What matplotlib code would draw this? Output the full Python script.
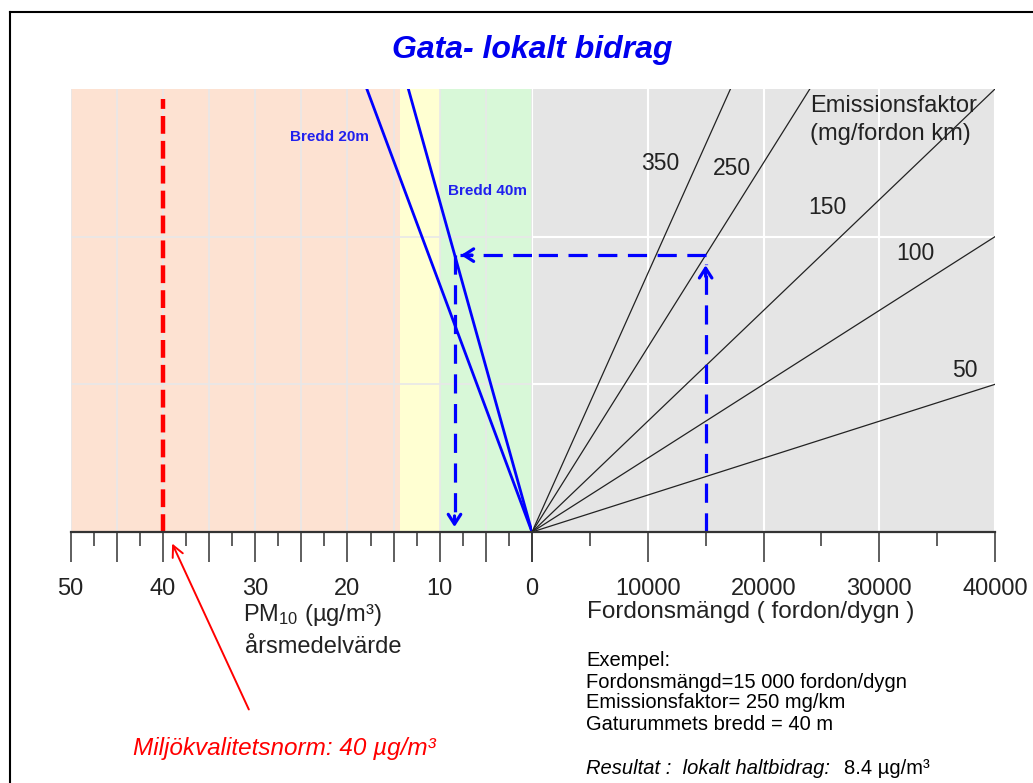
import numpy as np
import matplotlib
matplotlib.use("Agg")
import matplotlib.pyplot as plt
from matplotlib.lines import Line2D

plt.rcParams['font.family'] = ['Liberation Sans', 'DejaVu Sans']
plt.rcParams['mathtext.fontset'] = 'custom'
plt.rcParams['mathtext.rm'] = 'Liberation Sans'
plt.rcParams['mathtext.default'] = 'regular'


# ============================
# Data
# ============================

pm_ticks = [50, 40, 30, 20, 10, 0]
traffic_ticks = [0, 10000, 20000, 30000, 40000]

emission_factors = [50, 100, 150, 250, 350]        # mg/fordon km
ef_labels = ["50", "100", "150", "250", "350"]

bredd_labels = ["Bredd 20m", "Bredd 40m"]
bredd_pm_top = [17.9, 13.4]     # PM10 where the line reaches top of scale

zone_edges = [50, 14.3, 10, 0]   # peach / yellow / green
zone_colors = ["#fde2d2", "#ffffd2", "#d8f8d8"]

q_max = 6e6        # traffic * emission factor at top of scale
norm_pm = 40

ex_traffic = 15000
ex_ef = 250
ex_pm = 8.4


# ============================
# Figure
# ============================

W, H = 1033, 783
fig = plt.figure(figsize=(W / 100, H / 100), dpi=100)

axL = fig.add_axes([70.7 / W, 251 / H, 461.3 / W, 443 / H])
axR = fig.add_axes([532 / W, 251 / H, 463 / W, 443 / H])

for ax in (axL, axR):
    ax.set_ylim(0, q_max)
    for s in ("top", "left", "right"):
        ax.spines[s].set_visible(False)
    ax.spines["bottom"].set_linewidth(1.6)
    ax.spines["bottom"].set_color("#333333")
    ax.set_yticks([2e6, 4e6])
    ax.tick_params(axis="y", length=0, labelleft=False)
    ax.tick_params(axis="x", which="major", length=21.6, width=1.1,
                   color="#333333", labelsize=17, pad=11.5,
                   labelcolor="#222222")
    ax.tick_params(axis="x", which="minor", length=10, width=1.1,
                   color="#333333")

# left: PM10
axL.set_xlim(50, 0)
axL.set_facecolor("white")
for i in range(len(zone_colors)):
    axL.axvspan(zone_edges[i], zone_edges[i + 1],
                color=zone_colors[i], lw=0, zorder=0)
axL.set_xticks(np.arange(0, 51, 5))
axL.set_xticklabels([str(v) if v in pm_ticks else "" for v in range(0, 51, 5)])
axL.set_xticks(np.arange(2.5, 50, 5), minor=True)
axL.grid(True, which="major", color="#e8e8e8", lw=1.2)

# right: traffic (the shared "0" is labelled by the left axis)
axR.set_xlim(0, 40000)
axR.set_facecolor("#e5e5e5")
axR.set_xticks(traffic_ticks)
axR.set_xticklabels([str(v) if v > 0 else "" for v in traffic_ticks])
axR.set_xticks(np.arange(5000, 40000, 10000), minor=True)
axR.grid(True, which="major", color="white", lw=1.5)


# Emission factor lines

for ef in emission_factors:
    axR.plot([0, 40000], [0, 40000 * ef], color="#222222", lw=0.9)

ef_label_pos = [(37400, 2.19e6), (33100, 3.77e6), (25500, 4.39e6),
                (17300, 4.92e6), (11050, 4.99e6)]
for lab, (x, y) in zip(ef_labels, ef_label_pos):
    axR.text(x, y, lab, fontsize=16.5, color="#222222",
             ha="center", va="center")

axR.text(24000, 5.77e6, "Emissionsfaktor", fontsize=17, color="#222222",
         ha="left", va="center")
axR.text(24000, 5.39e6, "(mg/fordon km)", fontsize=17, color="#222222",
         ha="left", va="center")


# Street width lines

for pm_top in bredd_pm_top:
    axL.plot([0, pm_top], [0, q_max], color="blue", lw=2)

bredd_label_pos = [(21.9, 5.35e6), (4.8, 4.62e6)]
for lab, (x, y) in zip(bredd_labels, bredd_label_pos):
    axL.text(x, y, lab, fontsize=11, fontweight="bold", color="#2020ee",
             ha="center", va="center")


# Air quality norm

axL.plot([norm_pm, norm_pm], [0, 5.86e6], color="red", lw=3.2,
         dashes=(4, 1.6))


# Example path

q_ex = ex_traffic * ex_ef
dash_kw = dict(color="blue", lw=2.3, dashes=(6, 3.3))

axR.plot([ex_traffic, ex_traffic], [0, q_ex - 0.12e6], **dash_kw)
axR.plot([ex_traffic, 0], [q_ex, q_ex], **dash_kw)
axL.plot([0, ex_pm - 0.6], [q_ex, q_ex], **dash_kw)
axL.plot([ex_pm, ex_pm], [q_ex, 0.15e6], **dash_kw)

head = dict(arrowstyle="->,head_length=0.7,head_width=0.45",
            color="blue", lw=2.3)
axR.annotate("", xy=(ex_traffic, q_ex - 0.1e6), xytext=(0, -12),
             textcoords="offset points", arrowprops=head)
axL.annotate("", xy=(ex_pm - 0.4, q_ex), xytext=(12, 0),
             textcoords="offset points", arrowprops=head)
axL.annotate("", xy=(ex_pm, 0.03e6), xytext=(0, 12),
             textcoords="offset points", arrowprops=head)


# Red pointer to the norm

axL.annotate("", xy=(171, H - 541), xycoords="figure pixels",
             xytext=(250, H - 712), textcoords="figure pixels",
             arrowprops=dict(arrowstyle="->,head_length=0.8,head_width=0.4",
                             color="red", lw=1.4),
             annotation_clip=False)


# Texts

fig.text(532 / W, 1 - 50 / H, "Gata- lokalt bidrag", fontsize=23,
         fontweight="bold", fontstyle="italic", color="#0000ee",
         ha="center", va="center")

fig.text(243 / W, 1 - 615 / H, r"PM$_{10}$ (µg/m³)", fontsize=17,
         color="#222222", ha="left", va="center")
fig.text(245 / W, 1 - 647 / H, "årsmedelvärde", fontsize=17,
         color="#222222", ha="left", va="center")
fig.text(587 / W, 1 - 612 / H, "Fordonsmängd ( fordon/dygn )", fontsize=17.5,
         color="#222222", ha="left", va="center")

example_lines = ["Exempel:",
                 "Fordonsmängd=15 000 fordon/dygn",
                 "Emissionsfaktor= 250 mg/km",
                 "Gaturummets bredd = 40 m"]
for i, line in enumerate(example_lines):
    fig.text(586 / W, 1 - (661 + 21 * i) / H, line, fontsize=14.5,
             color="black", ha="left", va="center")

fig.text(586 / W, 1 - 768 / H, "Resultat :  lokalt haltbidrag:",
         fontsize=14.5, fontstyle="italic", color="black",
         ha="left", va="center")
fig.text(844 / W, 1 - 768 / H, "8.4 µg/m³", fontsize=14.5,
         color="black", ha="left", va="center")

fig.text(133 / W, 1 - 748 / H, "Miljökvalitetsnorm: 40 µg/m³", fontsize=17.5,
         fontstyle="italic", color="red", ha="left", va="center")


# Outer frame (only top and left visible)

fig.add_artist(Line2D([9.5 / W, 1.0], [1 - 11.5 / H, 1 - 11.5 / H],
                      color="black", lw=1.5, transform=fig.transFigure))
fig.add_artist(Line2D([9.5 / W, 9.5 / W], [0, 1 - 11.5 / H],
                      color="black", lw=1.5, transform=fig.transFigure))


plt.savefig("out.png", dpi=100)
